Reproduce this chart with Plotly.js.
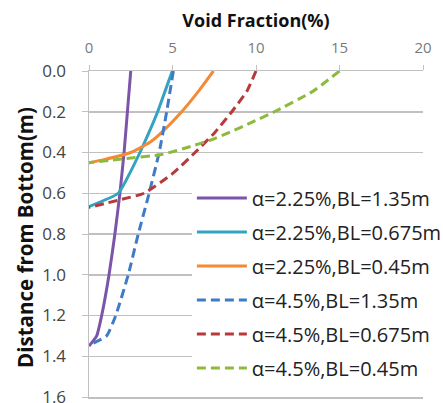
<!DOCTYPE html>
<html>
<head>
<meta charset="utf-8">
<script src="https://cdn.plot.ly/plotly-3.0.1.min.js"></script>
<style>html,body{margin:0;padding:0;background:#fff;}#chart{width:443px;height:403px;}</style>
</head>
<body>
<div id="chart"></div>
<script>
// Series: void fraction (%) vs distance from bottom (m)
const names = [
  "α=2.25%,BL=1.35m",
  "α=2.25%,BL=0.675m",
  "α=2.25%,BL=0.45m",
  "α=4.5%,BL=1.35m",
  "α=4.5%,BL=0.675m",
  "α=4.5%,BL=0.45m"
];
const s1_x = [2.5, 2.3, 2.1, 1.85, 1.55, 1.2, 0.76, 0.46, 0];
const s1_y = [0, 0.2, 0.4, 0.6, 0.8, 1.0, 1.2, 1.3, 1.35];
const s2_x = [4.99, 4.55, 4.11, 3.6, 3.05, 2.45, 1.75, 0];
const s2_y = [0, 0.1, 0.2, 0.3, 0.4, 0.5, 0.6, 0.665];
const s3_x = [7.45, 6.55, 5.55, 4.37, 3.65, 2.5, 0.9, 0];
const s3_y = [0, 0.1, 0.2, 0.3, 0.35, 0.4, 0.435, 0.45];
const s4_x = [5.05, 4.65, 4.2, 3.6, 2.95, 2.35, 1.6, 1.05, 0];
const s4_y = [0, 0.2, 0.4, 0.6, 0.8, 1.0, 1.2, 1.3, 1.345];
const s5_x = [10.0, 9.45, 8.55, 7.55, 6.35, 5.05, 3.3, 1.7, 0];
const s5_y = [0, 0.1, 0.2, 0.3, 0.4, 0.5, 0.6, 0.635, 0.67];
const s6_x = [15.0, 13.4, 11.1, 9.8, 8.45, 7.25, 6.1, 4.35, 2.15, 0];
const s6_y = [0, 0.1, 0.2, 0.25, 0.3, 0.34, 0.37, 0.41, 0.43, 0.45];
const xTicks = [0, 5, 10, 15, 20];
const yTicks = [0, 0.2, 0.4, 0.6, 0.8, 1.0, 1.2, 1.4, 1.6];

const xs = [s1_x, s2_x, s3_x, s4_x, s5_x, s6_x];
const ys = [s1_y, s2_y, s3_y, s4_y, s5_y, s6_y];
const colors = ["#7b55a8", "#33a3c2", "#f28a36", "#3f7bc6", "#b8393b", "#8dba3d"];
const dashes = ["solid", "solid", "solid", "9px,5px", "9px,5px", "9px,5px"];

const traces = names.map((n, i) => ({
  x: xs[i], y: ys[i], name: n, type: "scatter", mode: "lines",
  legendgroup: "g" + i,
  line: {color: colors[i], width: 3, dash: dashes[i], shape: "spline", smoothing: 0.5}
}));

const layout = {
  width: 443, height: 403,
  margin: {l: 89, r: 20, t: 71, b: 6, autoexpand: false},
  paper_bgcolor: "#fff", plot_bgcolor: "#fff",
  font: {family: "Open Sans, sans-serif", color: "#333"},
  title: {text: "<b>Void Fraction(%)</b>", xref: "paper", x: 0.5, xanchor: "center",
          yref: "container", y: 0.948, yanchor: "middle",
          font: {size: 18, color: "#111", family: "Open Sans, sans-serif"}},
  xaxis: {side: "top", range: [0, 20], tickvals: xTicks, ticktext: xTicks.map(String),
          showgrid: false, zeroline: false, showline: true, mirror: true,
          linecolor: "#c0c0c0", linewidth: 1.5,
          ticks: "outside", ticklen: 5, tickcolor: "#c0c0c0",
          ticklabelstandoff: 6,
          tickfont: {size: 15, color: "#7a7a7a"}, fixedrange: true},
  yaxis: {range: [1.6, 0], tickvals: yTicks, ticktext: yTicks.map(v => v.toFixed(1)),
          showgrid: true, gridcolor: "#c0c0c0", gridwidth: 1.5, zeroline: false,
          showline: true, linecolor: "#c0c0c0", linewidth: 1.5,
          ticks: "outside", ticklen: 6, tickcolor: "#c0c0c0",
          ticklabelstandoff: 12, ticklabeloverflow: "allow",
          tickfont: {size: 17, color: "#444"}, fixedrange: true},
  annotations: [{
    text: "<b>Distance from Bottom(m)</b>", textangle: -90,
    xref: "paper", x: -64 / 334, xanchor: "center",
    yref: "paper", y: 0.488, yanchor: "middle",
    showarrow: false, font: {size: 20.5, color: "#111"}
  }],
  showlegend: true,
  legend: {x: 0.308, xanchor: "left", y: 0.670, yanchor: "top",
           bgcolor: "#fff", borderwidth: 0, itemwidth: 50,
           tracegroupgap: 5, font: {size: 20, color: "#222"}}
};

Plotly.newPlot("chart", traces, layout, {displayModeBar: false, staticPlot: true});
</script>
</body>
</html>
